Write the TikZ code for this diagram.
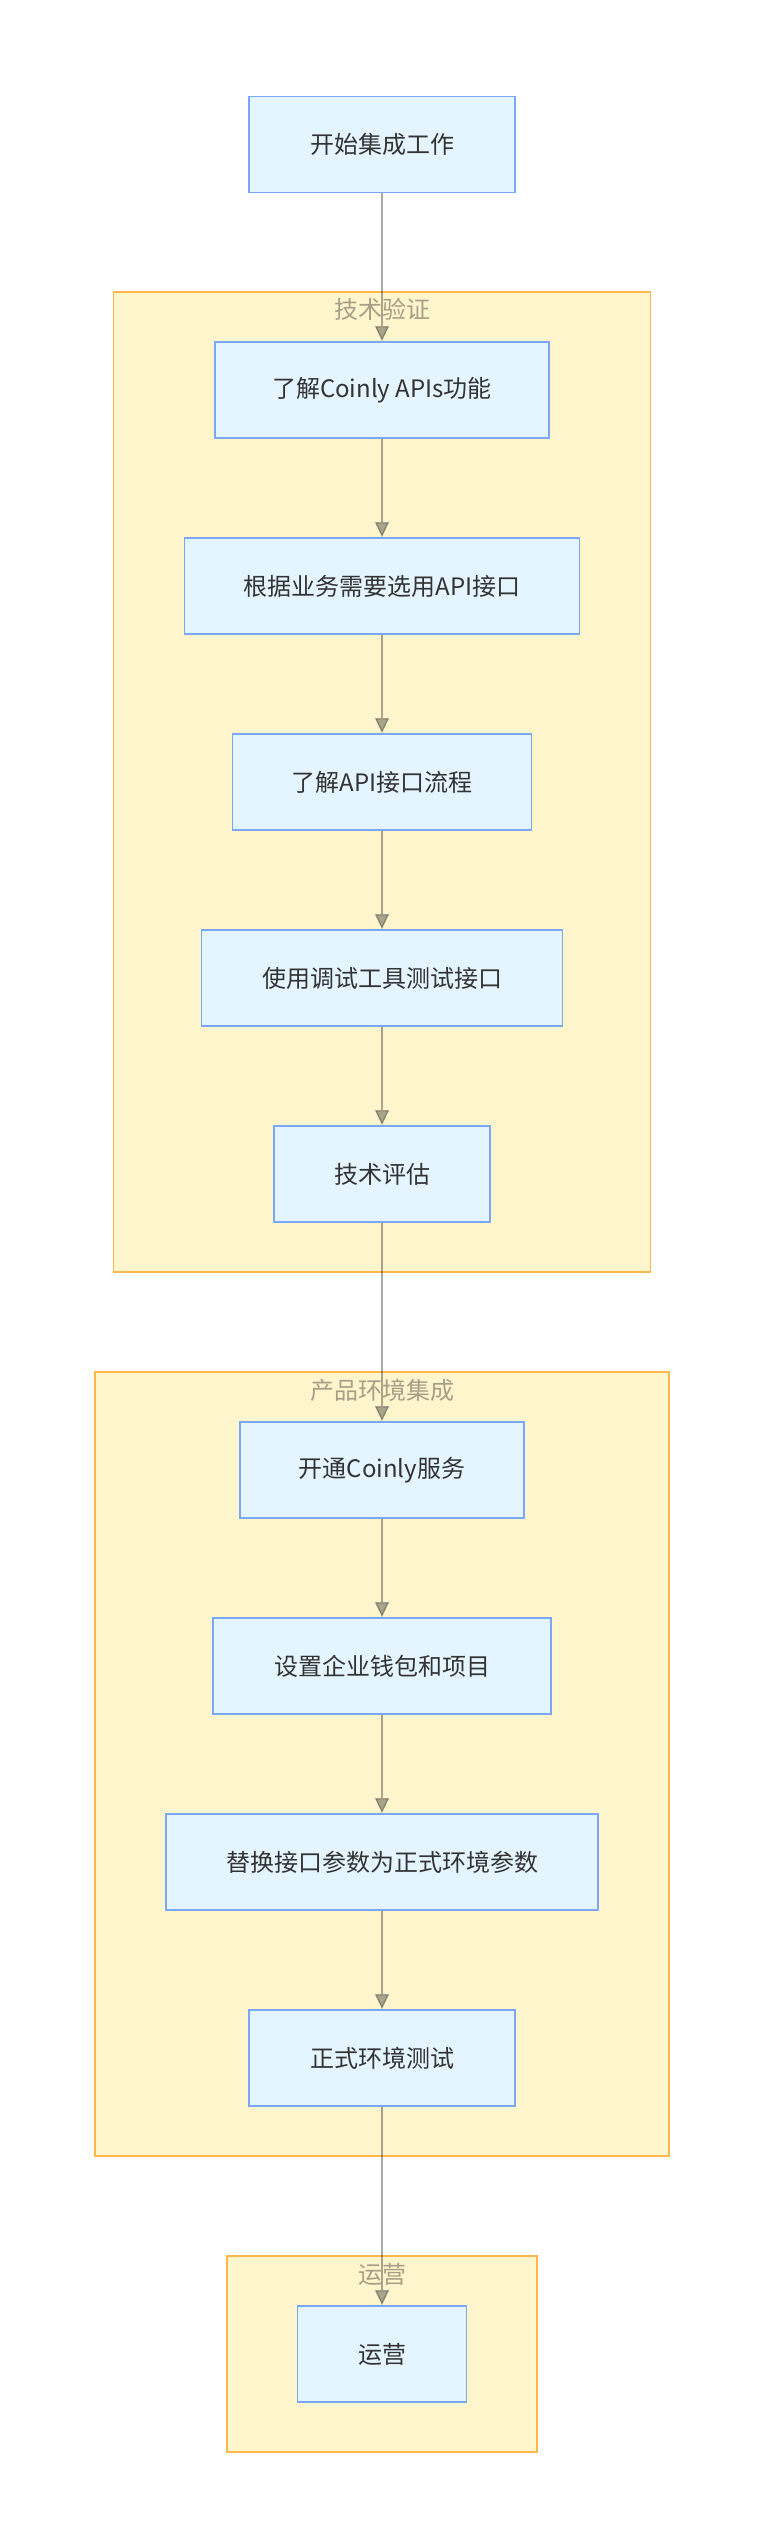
\documentclass[tikz,border=0pt]{standalone}
\usepackage{fontspec}
\setmainfont{Noto Sans CJK SC}
\usetikzlibrary{arrows.meta}
\definecolor{nodefill}{HTML}{E5F5FF}
\definecolor{nodeborder}{HTML}{7BA7F7}
\definecolor{clfill}{HTML}{FFF5CC}
\definecolor{clborder}{HTML}{FFB74D}
\definecolor{cltext}{HTML}{A59F88}
\definecolor{txt}{HTML}{333333}
\definecolor{edgecol}{HTML}{333333}
\begin{document}
\begin{tikzpicture}[x=1pt,y=1pt,
  stepbox/.style={draw=nodeborder,fill=nodefill,line width=1.8pt,minimum height=96pt,inner sep=0pt,text=txt,font=\fontsize{24}{29}\selectfont},
  clusterbox/.style={draw=clborder,fill=clfill,line width=1.8pt},
  cltitle/.style={text=cltext,font=\fontsize{24}{29}\selectfont,inner sep=0pt},
  flow/.style={draw=edgecol,line width=1.3pt,opacity=0.42,-{Triangle[length=15pt,width=14pt]}}
]
\useasboundingbox[fill=white] (0,0) rectangle (764,-2548);

% clusters
\path[clusterbox] (113.5,-292) rectangle (650.5,-1272);
\path[clusterbox] (95,-1372) rectangle (669,-2156);
\path[clusterbox] (227,-2256) rectangle (537,-2452);
\node[cltitle] (t1) at (382,-309) {技术验证};
\node[cltitle] (t2) at (382,-1390) {产品环境集成};
\node[cltitle] (t3) at (382,-2274) {运营};

% nodes
\node[stepbox,minimum width=266pt] (s0) at (382,-144.5) {开始集成工作};
\node[stepbox,minimum width=334pt] (s1) at (382,-390) {了解Coinly APIs功能};
\node[stepbox,minimum width=395pt] (s2) at (382,-586) {根据业务需要选用API接口};
\node[stepbox,minimum width=299pt] (s3) at (382,-782) {了解API接口流程};
\node[stepbox,minimum width=361pt] (s4) at (382,-978) {使用调试工具测试接口};
\node[stepbox,minimum width=216pt] (s5) at (382,-1174) {技术评估};
\node[stepbox,minimum width=284pt] (s6) at (382,-1470) {开通Coinly服务};
\node[stepbox,minimum width=338pt] (s7) at (382,-1666) {设置企业钱包和项目};
\node[stepbox,minimum width=432pt] (s8) at (382,-1862) {替换接口参数为正式环境参数};
\node[stepbox,minimum width=266pt] (s9) at (382,-2058) {正式环境测试};
\node[stepbox,minimum width=169pt] (s10) at (382,-2354) {运营};

% edges
\draw[flow] (s0.south) -- (s1.north);
\draw[flow] (s1.south) -- (s2.north);
\draw[flow] (s2.south) -- (s3.north);
\draw[flow] (s3.south) -- (s4.north);
\draw[flow] (s4.south) -- (s5.north);
\draw[flow] (s5.south) -- (s6.north);
\draw[flow] (s6.south) -- (s7.north);
\draw[flow] (s7.south) -- (s8.north);
\draw[flow] (s8.south) -- (s9.north);
\draw[flow] (s9.south) -- (s10.north);
\end{tikzpicture}
\end{document}
